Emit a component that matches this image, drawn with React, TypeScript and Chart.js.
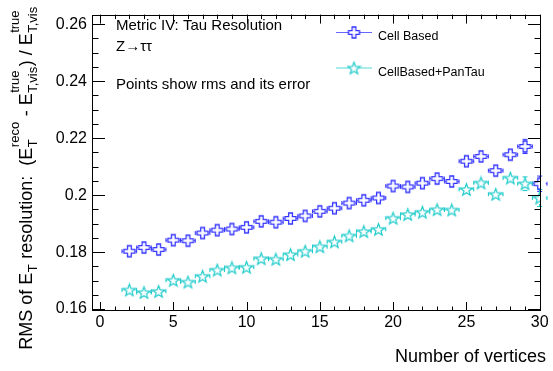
import React, { useEffect, useRef } from 'react';
import { Chart, registerables } from 'chart.js';

Chart.register(...registerables);

// ---- data ----
const vertices = [2, 3, 4, 5, 6, 7, 8, 9, 10, 11, 12, 13, 14, 15, 16, 17, 18, 19, 20, 21, 22, 23, 24, 25, 26, 27, 28, 29, 30];
const cellBased = [0.1803, 0.1816, 0.1809, 0.1842, 0.1840, 0.1867, 0.1877, 0.1881, 0.1887, 0.1908, 0.1905, 0.1918, 0.1927, 0.1943, 0.1954, 0.1972, 0.1982, 0.1990, 0.2032, 0.2029, 0.2042, 0.2058, 0.2048, 0.2119, 0.2136, 0.2086, 0.2142, 0.2171, 0.2040];
const cellBasedErr = [0.0006, 0.0006, 0.0006, 0.0006, 0.0006, 0.0006, 0.0006, 0.0007, 0.0007, 0.0007, 0.0007, 0.0008, 0.0008, 0.0008, 0.0009, 0.0009, 0.0010, 0.0010, 0.0011, 0.0011, 0.0012, 0.0013, 0.0014, 0.0015, 0.0016, 0.0018, 0.0019, 0.0025, 0.0027];
const panTau = [0.1667, 0.1658, 0.1662, 0.1701, 0.1695, 0.1715, 0.1737, 0.1745, 0.1747, 0.1777, 0.1775, 0.1791, 0.1803, 0.1819, 0.1836, 0.1857, 0.1872, 0.1880, 0.1919, 0.1932, 0.1940, 0.1949, 0.1948, 0.2020, 0.2043, 0.2003, 0.2060, 0.2040, 0.1990];
const panTauErr = [0.0006, 0.0006, 0.0006, 0.0006, 0.0006, 0.0006, 0.0006, 0.0007, 0.0007, 0.0007, 0.0007, 0.0008, 0.0008, 0.0008, 0.0009, 0.0009, 0.0010, 0.0010, 0.0011, 0.0011, 0.0012, 0.0013, 0.0014, 0.0015, 0.0016, 0.0018, 0.0019, 0.0024, 0.0030];
const xBinHalfWidth = 0.5;
const xTicks = [0, 5, 10, 15, 20, 25, 30];
const yTicks = [0.16, 0.18, 0.2, 0.22, 0.24, 0.26];
const seriesLabels = ['Cell Based', 'CellBased+PanTau'];
const annotations = ['Metric IV: Tau Resolution', 'Z\u2192\u03c4\u03c4', 'Points show rms and its error'];
const xTitle = 'Number of vertices';

const BLUE = '#3434ff';
const CYAN = '#1ccaca';
const FONT = '"Liberation Sans", Arial, Helvetica, sans-serif';

function makeCross(color: string) {
  const size = 15;
  const c = document.createElement('canvas');
  c.width = size; c.height = size;
  const g = c.getContext('2d')!;
  g.strokeStyle = color; g.lineWidth = 1.3;
  const h = 5.5, a = 1.9, cx = size / 2, cy = size / 2;
  g.beginPath();
  g.moveTo(cx - a, cy - h); g.lineTo(cx + a, cy - h); g.lineTo(cx + a, cy - a);
  g.lineTo(cx + h, cy - a); g.lineTo(cx + h, cy + a); g.lineTo(cx + a, cy + a);
  g.lineTo(cx + a, cy + h); g.lineTo(cx - a, cy + h); g.lineTo(cx - a, cy + a);
  g.lineTo(cx - h, cy + a); g.lineTo(cx - h, cy - a); g.lineTo(cx - a, cy - a);
  g.closePath(); g.stroke();
  return c;
}

function makeStar(color: string) {
  const size = 15;
  const c = document.createElement('canvas');
  c.width = size; c.height = size;
  const g = c.getContext('2d')!;
  g.strokeStyle = color; g.lineWidth = 1.2;
  const cx = size / 2, cy = size / 2 + 0.6, R = 6.3, r = 2.6;
  g.beginPath();
  for (let i = 0; i < 10; i++) {
    const ang = -Math.PI / 2 + i * Math.PI / 5;
    const rad = i % 2 === 0 ? R : r;
    const px = cx + rad * Math.cos(ang), py = cy + rad * Math.sin(ang);
    if (i === 0) g.moveTo(px, py); else g.lineTo(px, py);
  }
  g.closePath(); g.stroke();
  return c;
}

type Seg = { n?: string; sup?: string; sub?: string };
const yTitleSegs: Seg[] = [
  { n: 'RMS of E' }, { sub: 'T' }, { n: ' resolution:  (E' }, { sup: 'reco', sub: 'T' },
  { n: ' - E' }, { sup: 'true', sub: 'T,vis' }, { n: ') / E' }, { sup: 'true', sub: 'T,vis' },
];

export default function App() {
  const ref = useRef<HTMLCanvasElement | null>(null);
  useEffect(() => {
    if (!ref.current) return;
    const crossImg = makeCross(BLUE);
    const starImg = makeStar(CYAN);
    const errs = [cellBasedErr, panTauErr];
    const vals = [cellBased, panTau];
    const colors = [BLUE, CYAN];
    const imgs = [crossImg, starImg];

    const rootStyle = {
      id: 'rootStyle',
      beforeDatasetsDraw(chart: any) {
        const ctx = chart.ctx;
        const xs = chart.scales.x, ys = chart.scales.y;
        const gap = 6;
        ctx.save();
        ctx.lineWidth = 1;
        for (let s = 0; s < 2; s++) {
          ctx.strokeStyle = colors[s];
          for (let j = 0; j < vertices.length; j++) {
            const x = xs.getPixelForValue(vertices[j]);
            const xl = xs.getPixelForValue(vertices[j] - xBinHalfWidth);
            const xr = xs.getPixelForValue(vertices[j] + xBinHalfWidth);
            const y = ys.getPixelForValue(vals[s][j]);
            const yt = ys.getPixelForValue(vals[s][j] + errs[s][j]);
            const yb = ys.getPixelForValue(vals[s][j] - errs[s][j]);
            ctx.beginPath();
            ctx.moveTo(xl, y); ctx.lineTo(x - gap, y);
            ctx.moveTo(x + gap, y); ctx.lineTo(xr, y);
            ctx.moveTo(xl, y - 2); ctx.lineTo(xl, y + 2);
            ctx.moveTo(xr, y - 2); ctx.lineTo(xr, y + 2);
            if (y - yt > gap) {
              ctx.moveTo(x, yt); ctx.lineTo(x, y - gap);
              ctx.moveTo(x, y + gap); ctx.lineTo(x, yb);
              ctx.moveTo(x - 2.5, yt); ctx.lineTo(x + 2.5, yt);
              ctx.moveTo(x - 2.5, yb); ctx.lineTo(x + 2.5, yb);
            }
            ctx.stroke();
          }
        }
        ctx.restore();
      },
      afterDraw(chart: any) {
        const ctx = chart.ctx;
        const a = chart.chartArea;
        const xs = chart.scales.x, ys = chart.scales.y;
        ctx.save();
        ctx.strokeStyle = '#000';
        ctx.lineWidth = 1;
        ctx.strokeRect(Math.round(a.left) + 0.5, Math.round(a.top) + 0.5, Math.round(a.right - a.left) - 1, Math.round(a.bottom - a.top) - 1);
        ctx.beginPath();
        // x ticks
        for (let v = Math.ceil(xs.min); v <= xs.max; v += 1) {
          const px = Math.round(xs.getPixelForValue(v)) + 0.5;
          const len = v % 5 === 0 ? 9 : 4.5;
          ctx.moveTo(px, a.bottom); ctx.lineTo(px, a.bottom - len);
          ctx.moveTo(px, a.top); ctx.lineTo(px, a.top + len);
        }
        // y ticks
        for (let k = Math.ceil(ys.min / 0.005 - 1e-6); k * 0.005 <= ys.max + 1e-9; k++) {
          const v = k * 0.005;
          const py = Math.round(ys.getPixelForValue(v)) + 0.5;
          const len = k % 4 === 0 ? 13 : 6.5;
          ctx.moveTo(a.left, py); ctx.lineTo(a.left + len, py);
          ctx.moveTo(a.right, py); ctx.lineTo(a.right - len, py);
        }
        ctx.stroke();

        // annotations
        ctx.fillStyle = '#000';
        ctx.textAlign = 'left';
        ctx.textBaseline = 'alphabetic';
        ctx.font = `15px ${FONT}`;
        ctx.fillText(annotations[0], 116, 29.5);
        ctx.fillText(annotations[1], 116, 50.5);
        ctx.fillText(annotations[2], 116, 88.5);

        // legend
        const legY = [32, 67.5];
        const legTextY = [40, 76];
        for (let s = 0; s < 2; s++) {
          ctx.globalAlpha = 0.75;
          ctx.strokeStyle = colors[s];
          ctx.beginPath();
          ctx.moveTo(336, legY[s] + 0.5); ctx.lineTo(372, legY[s] + 0.5);
          ctx.stroke();
          ctx.globalAlpha = 1;
          ctx.fillStyle = '#fff';
          ctx.fillRect(349, legY[s] - 5, 10, 10);
          ctx.drawImage(imgs[s], 354 - 7.5, legY[s] - 7);
          ctx.fillStyle = '#000';
          ctx.font = `12.5px ${FONT}`;
          ctx.fillText(seriesLabels[s], 378, legTextY[s]);
        }

        // x title
        ctx.font = `18px ${FONT}`;
        ctx.textAlign = 'right';
        ctx.fillText(xTitle, 546, 362);

        // y title (rotated rich text)
        const big = `18px ${FONT}`, small = `13px ${FONT}`;
        const widths = yTitleSegs.map((sg) => {
          if (sg.n !== undefined) { ctx.font = big; return ctx.measureText(sg.n).width; }
          ctx.font = small;
          return Math.max(sg.sup ? ctx.measureText(sg.sup).width : 0, sg.sub ? ctx.measureText(sg.sub).width : 0) + 1;
        });
        const total = widths.reduce((p, c) => p + c, 0);
        ctx.save();
        ctx.translate(32, 178);
        ctx.rotate(-Math.PI / 2);
        ctx.textAlign = 'left';
        let cx = -total / 2;
        yTitleSegs.forEach((sg, i) => {
          if (sg.n !== undefined) {
            ctx.font = big; ctx.fillText(sg.n, cx, 0);
          } else {
            ctx.font = small;
            if (sg.sup) ctx.fillText(sg.sup, cx + 0.5, -13);
            if (sg.sub) ctx.fillText(sg.sub, cx + 0.5, 5);
          }
          cx += widths[i];
        });
        ctx.restore();
        ctx.restore();
      },
    };

    const chart = new Chart(ref.current, {
      type: 'scatter',
      data: {
        datasets: [
          {
            label: seriesLabels[0],
            data: vertices.map((v, i) => ({ x: v, y: cellBased[i] })),
            pointStyle: crossImg as any,
            showLine: false,
          },
          {
            label: seriesLabels[1],
            data: vertices.map((v, i) => ({ x: v, y: panTau[i] })),
            pointStyle: starImg as any,
            showLine: false,
          },
        ],
      },
      options: {
        animation: false,
        responsive: false,
        devicePixelRatio: 1,
        events: [],
        layout: { padding: { top: 4, right: 12, left: 0, bottom: 0 } },
        plugins: { legend: { display: false }, tooltip: { enabled: false } },
        scales: {
          x: {
            type: 'linear',
            min: -0.546,
            max: 30.09,
            afterFit: (s: any) => { s.height = 60; },
            afterBuildTicks: (s: any) => { s.ticks = xTicks.map((v) => ({ value: v })); },
            grid: { display: false, drawTicks: false },
            border: { display: false },
            ticks: { color: '#000', font: { family: FONT, size: 16 }, padding: 2, maxRotation: 0, autoSkip: false, callback: (v: any) => String(v) },
          },
          y: {
            type: 'linear',
            min: 0.15932,
            max: 0.26339,
            afterFit: (s: any) => { s.width = 92; },
            afterBuildTicks: (s: any) => { s.ticks = yTicks.map((v) => ({ value: v })); },
            grid: { display: false, drawTicks: false },
            border: { display: false },
            ticks: { color: '#000', font: { family: FONT, size: 16 }, padding: 5, autoSkip: false, callback: (v: any) => String(Math.round(Number(v) * 100) / 100) },
          },
        },
      },
      plugins: [rootStyle],
    });
    return () => chart.destroy();
  }, []);

  return (
    <div style={{ position: 'absolute', left: 0, top: 0, width: 553, height: 371, background: '#fff' }}>
      <canvas ref={ref} width={553} height={371} style={{ display: 'block' }} />
    </div>
  );
}
